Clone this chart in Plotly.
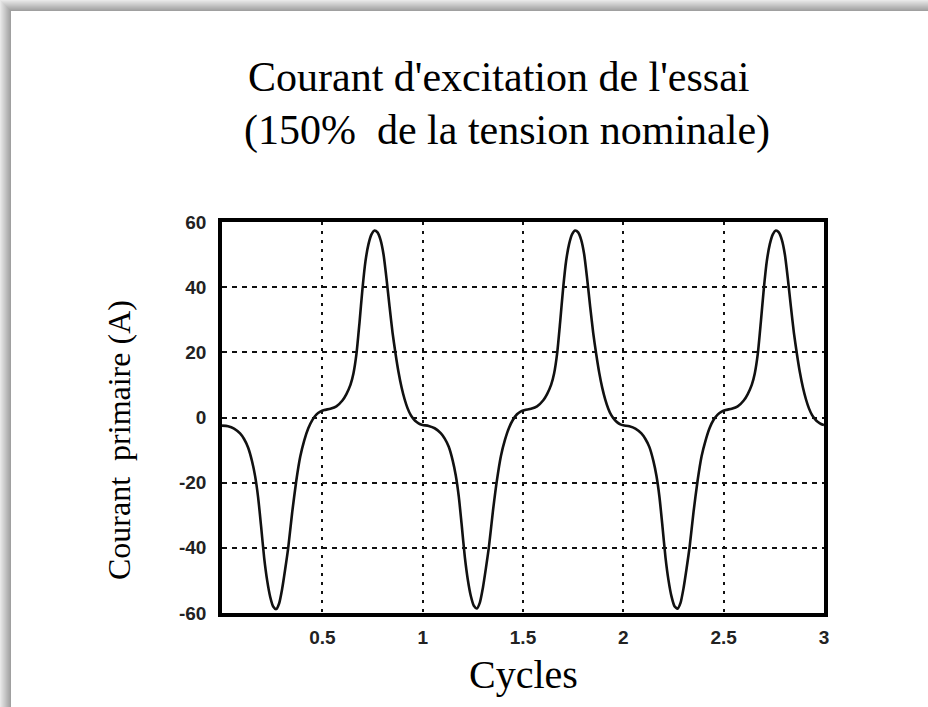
import plotly.graph_objects as go

# Excitation current waveform over three supply cycles
cycles = [
    0.00, 0.03, 0.06, 0.09, 0.11, 0.13, 0.15, 0.165, 0.18, 0.195, 0.21, 0.225, 0.24, 0.255, 0.27,
    0.285, 0.30, 0.315, 0.33, 0.35, 0.37, 0.39, 0.41, 0.43, 0.45, 0.47, 0.49, 0.51, 0.54, 0.57,
    0.60, 0.62, 0.64, 0.655, 0.67, 0.685, 0.70, 0.715, 0.73, 0.745, 0.76, 0.775, 0.79, 0.805, 0.82,
    0.835, 0.85, 0.865, 0.88, 0.895, 0.91, 0.925, 0.94, 0.955, 0.97, 0.985,
    1.00, 1.03, 1.06, 1.09, 1.11, 1.13, 1.15, 1.165, 1.18, 1.195, 1.21, 1.225, 1.24, 1.255, 1.27,
    1.285, 1.30, 1.315, 1.33, 1.35, 1.37, 1.39, 1.41, 1.43, 1.45, 1.47, 1.49, 1.51, 1.54, 1.57,
    1.60, 1.62, 1.64, 1.655, 1.67, 1.685, 1.70, 1.715, 1.73, 1.745, 1.76, 1.775, 1.79, 1.805, 1.82,
    1.835, 1.85, 1.865, 1.88, 1.895, 1.91, 1.925, 1.94, 1.955, 1.97, 1.985,
    2.00, 2.03, 2.06, 2.09, 2.11, 2.13, 2.15, 2.165, 2.18, 2.195, 2.21, 2.225, 2.24, 2.255, 2.27,
    2.285, 2.30, 2.315, 2.33, 2.35, 2.37, 2.39, 2.41, 2.43, 2.45, 2.47, 2.49, 2.51, 2.54, 2.57,
    2.60, 2.62, 2.64, 2.655, 2.67, 2.685, 2.70, 2.715, 2.73, 2.745, 2.76, 2.775, 2.79, 2.805, 2.82,
    2.835, 2.85, 2.865, 2.88, 2.895, 2.91, 2.925, 2.94, 2.955, 2.97, 2.985, 3.00,
]
current_a = [
    -2.5, -2.7, -3.4, -4.9, -6.6, -9.2, -13.5, -18.0, -24.5, -33.5, -43.0, -50.0, -55.0, -58.0, -58.8,
    -57.0, -52.5, -46.5, -40.0, -29.0, -19.5, -12.0, -7.0, -3.3, -0.8, 0.9, 1.8, 2.3, 2.7, 3.4,
    5.2, 7.2, 10.0, 13.5, 19.5, 29.0, 39.5, 48.0, 53.2, 56.2, 57.4, 56.8, 54.5, 50.0, 42.5,
    34.0, 26.0, 19.5, 13.8, 9.2, 5.6, 2.8, 0.8, -0.5, -1.4, -2.0,
    -2.3, -2.6, -3.3, -4.8, -6.5, -9.0, -13.3, -17.8, -24.3, -33.3, -42.8, -49.8, -54.8, -57.8, -58.6,
    -56.8, -52.3, -46.3, -39.8, -28.8, -19.3, -11.8, -6.9, -3.2, -0.7, 1.0, 1.9, 2.3, 2.7, 3.4,
    5.2, 7.2, 10.0, 13.5, 19.6, 29.2, 39.6, 48.1, 53.3, 56.3, 57.4, 56.8, 54.5, 50.0, 42.4,
    33.9, 25.9, 19.4, 13.7, 9.1, 5.5, 2.7, 0.7, -0.6, -1.5, -2.1,
    -2.4, -2.7, -3.4, -4.9, -6.6, -9.1, -13.4, -17.9, -24.4, -33.4, -42.9, -49.9, -54.9, -57.9, -58.7,
    -56.9, -52.4, -46.4, -39.9, -28.9, -19.4, -11.9, -7.0, -3.2, -0.7, 0.9, 1.8, 2.3, 2.7, 3.4,
    5.2, 7.2, 10.0, 13.5, 19.5, 29.1, 39.5, 48.0, 53.2, 56.2, 57.4, 56.8, 54.5, 50.0, 42.5,
    34.0, 26.0, 19.5, 13.8, 9.2, 5.6, 2.8, 0.8, -0.5, -1.4, -2.0, -2.3,
]

x_ticks = [0.5, 1, 1.5, 2, 2.5, 3]
x_tick_text = ["0.5", "1", "1.5", "2", "2.5", "3"]
y_ticks = [-60, -40, -20, 0, 20, 40, 60]
y_tick_text = ["-60", "-40", "-20", "0", "20", "40", "60"]

W, H = 928, 707
L, R, T, B = 222, 104, 222, 94
PW, PH = W - L - R, H - T - B


def px(x):
    return (x - L) / PW


def py(y):
    return (H - B - y) / PH


fig = go.Figure()
fig.add_trace(go.Scatter(
    x=cycles, y=current_a, mode="lines",
    line=dict(color="#111111", width=2.6, shape="spline", smoothing=0.6),
    showlegend=False, hoverinfo="skip",
))

tick_font = dict(family="Liberation Sans, Arial, sans-serif", size=19, color="#222222", weight="bold")

fig.update_xaxes(
    range=[0, 3], tickvals=x_ticks, ticktext=x_tick_text,
    showgrid=True, gridcolor="#111111", gridwidth=2, griddash="3px,6px",
    showline=True, linecolor="#000000", linewidth=3.5, mirror=True,
    ticks="", tickfont=tick_font, ticklabelstandoff=4, zeroline=False,
)
fig.update_yaxes(
    range=[-60, 60], tickvals=y_ticks, ticktext=y_tick_text,
    showgrid=True, gridcolor="#111111", gridwidth=1.5, griddash="5px,5px",
    showline=True, linecolor="#000000", linewidth=3.5, mirror=True,
    ticks="", tickfont=tick_font, ticklabelstandoff=8, zeroline=False,
)

serif = "Liberation Serif, Times New Roman, serif"
annotations = [
    dict(text="Courant d'excitation de l'essai", x=px(499), y=py(77),
         font=dict(family=serif, size=42, color="#000000")),
    dict(text="(150%  de la tension nominale)", x=px(507), y=py(130),
         font=dict(family=serif, size=42, color="#000000")),
    dict(text="Courant  primaire (A)", x=px(119), y=py(440), textangle=-90,
         font=dict(family=serif, size=32, color="#000000")),
    dict(text="Cycles", x=px(523), y=py(674),
         font=dict(family=serif, size=40, color="#000000")),
]
for a in annotations:
    a.update(xref="paper", yref="paper", xanchor="center", yanchor="middle", showarrow=False)

# Soft grey drop shadow along the top and left edges of the page
shapes = []
n = 11
for i in range(n):
    g = int(232 - (232 - 160) * i / (n - 1))
    col = f"rgb({g},{g},{g})"
    shapes.append(dict(type="rect", xref="paper", yref="paper", layer="above",
                       x0=px(i), x1=px(i + 1), y0=py(H), y1=py(i),
                       fillcolor=col, line=dict(width=0)))
    shapes.append(dict(type="rect", xref="paper", yref="paper", layer="above",
                       x0=px(i), x1=px(W), y0=py(i + 1), y1=py(i),
                       fillcolor=col, line=dict(width=0)))

fig.update_layout(
    width=W, height=H,
    margin=dict(l=L, r=R, t=T, b=B),
    paper_bgcolor="#ffffff", plot_bgcolor="#ffffff",
    annotations=annotations, shapes=shapes,
)

fig.write_html("out.html")
